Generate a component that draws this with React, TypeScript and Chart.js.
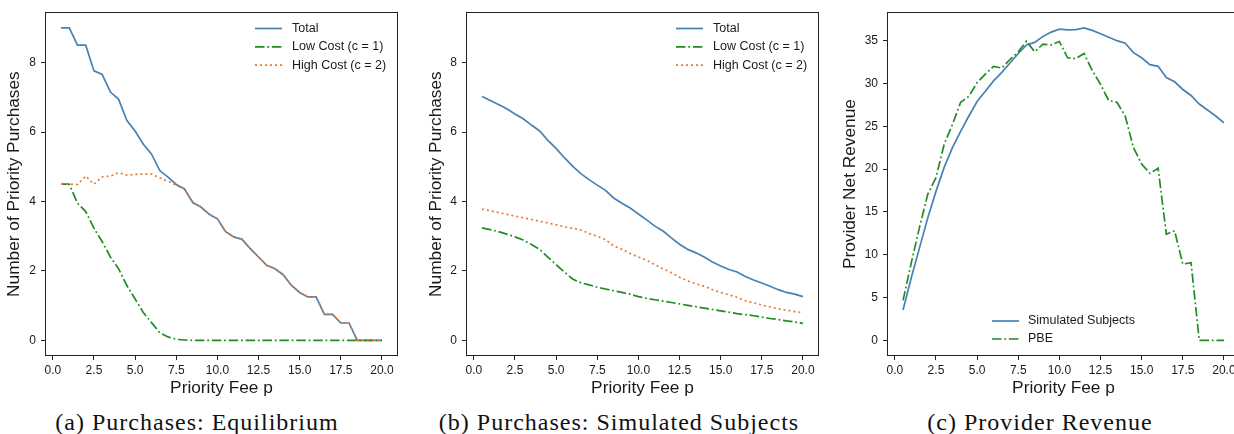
import React, { useEffect, useRef } from "react";
import { Chart, registerables } from "chart.js";

Chart.register(...registerables);
Chart.defaults.font.family = "'Liberation Sans', Arial, Helvetica, sans-serif";

// ---------------- DATA ----------------
const feeP = [
  0.5, 1.0, 1.5, 2.0, 2.5, 3.0, 3.5, 4.0, 4.5, 5.0,
  5.5, 6.0, 6.5, 7.0, 7.5, 8.0, 8.5, 9.0, 9.5, 10.0,
  10.5, 11.0, 11.5, 12.0, 12.5, 13.0, 13.5, 14.0, 14.5, 15.0,
  15.5, 16.0, 16.5, 17.0, 17.5, 18.0, 18.5, 19.0, 19.5, 20.0,
];

// (a) Purchases: Equilibrium
const totalEq = [
  9.0, 9.0, 8.5, 8.5, 7.76, 7.66, 7.15, 6.94, 6.33, 6.03,
  5.65, 5.36, 4.89, 4.70, 4.49, 4.36, 3.97, 3.84, 3.63, 3.50,
  3.13, 2.98, 2.91, 2.64, 2.40, 2.16, 2.06, 1.89, 1.58, 1.38,
  1.25, 1.25, 0.75, 0.75, 0.5, 0.5, 0, 0, 0, 0,
];
const lowEq = [
  4.5, 4.5, 3.95, 3.71, 3.23, 2.84, 2.40, 2.06, 1.58, 1.19,
  0.80, 0.51, 0.22, 0.10, 0.03, 0.01, 0, 0, 0, 0,
  0, 0, 0, 0, 0, 0, 0, 0, 0, 0,
  0, 0, 0, 0, 0, 0, 0, 0, 0, 0,
];
const highEq = [
  4.5, 4.5, 4.49, 4.73, 4.5, 4.71, 4.73, 4.83, 4.76, 4.78,
  4.79, 4.79, 4.68, 4.58, 4.47, 4.36, 3.97, 3.84, 3.63, 3.50,
  3.13, 2.98, 2.91, 2.64, 2.40, 2.16, 2.06, 1.89, 1.58, 1.38,
  1.25, 1.25, 0.75, 0.75, 0.5, 0.5, 0, 0, 0, 0,
];

// (b) Purchases: Simulated Subjects
const totalSim = [
  7.02, 6.91, 6.79, 6.67, 6.52, 6.38, 6.20, 6.03, 5.76, 5.53,
  5.26, 5.02, 4.80, 4.63, 4.47, 4.32, 4.10, 3.95, 3.81, 3.64,
  3.47, 3.29, 3.15, 2.95, 2.77, 2.62, 2.52, 2.40, 2.26, 2.14,
  2.04, 1.97, 1.84, 1.74, 1.65, 1.56, 1.46, 1.38, 1.33, 1.26,
];
const lowSim = [
  3.24, 3.19, 3.13, 3.06, 2.98, 2.89, 2.76, 2.62, 2.40, 2.18,
  1.97, 1.77, 1.66, 1.60, 1.53, 1.48, 1.43, 1.38, 1.33, 1.26,
  1.21, 1.17, 1.13, 1.09, 1.05, 1.01, 0.97, 0.93, 0.89, 0.85,
  0.81, 0.77, 0.74, 0.71, 0.67, 0.63, 0.60, 0.56, 0.53, 0.49,
];
const highSim = [
  3.78, 3.73, 3.68, 3.63, 3.58, 3.53, 3.48, 3.43, 3.38, 3.33,
  3.27, 3.23, 3.18, 3.08, 3.00, 2.90, 2.72, 2.62, 2.50, 2.40,
  2.31, 2.18, 2.06, 1.95, 1.82, 1.71, 1.63, 1.56, 1.46, 1.38,
  1.31, 1.24, 1.14, 1.08, 1.02, 0.96, 0.91, 0.87, 0.83, 0.80,
];

// (c) Provider Revenue
const revenueSim = [
  3.54, 7.32, 10.8, 14.3, 17.4, 20.2, 22.5, 24.4, 26.2, 27.9,
  29.1, 30.3, 31.3, 32.4, 33.5, 34.5, 34.8, 35.5, 36.0, 36.35,
  36.25, 36.3, 36.5, 36.2, 35.8, 35.4, 35.0, 34.7, 33.6, 33.0,
  32.2, 32.0, 30.7, 30.2, 29.3, 28.6, 27.6, 26.9, 26.2, 25.4,
];
const revenuePBE = [
  4.67, 9.07, 13.2, 17.05, 19.0, 22.9, 25.2, 27.8, 28.5, 30.1,
  31.1, 32.0, 31.8, 32.8, 33.7, 34.95, 33.7, 34.6, 34.5, 34.9,
  33.0, 32.9, 33.5, 31.5, 29.9, 28.0, 27.8, 26.2, 22.5, 20.6,
  19.5, 20.1, 12.4, 12.8, 8.9, 9.07, 0, 0, 0, 0,
];

const xTicks = [0, 2.5, 5, 7.5, 10, 12.5, 15, 17.5, 20];
const purchaseTicks = [0, 2, 4, 6, 8];
const revenueTicks = [0, 5, 10, 15, 20, 25, 30, 35];

const captions = [
  "(a) Purchases: Equilibrium",
  "(b) Purchases: Simulated Subjects",
  "(c) Provider Revenue",
];

// ---------------- STYLE ----------------
const BLUE = "#4682b4";
const GREEN = "#228b22";
const ORANGE = "#ec762c";
const TEXT = "#1a1a1a";
const LW = 1.7;
const DASHDOT = [9.5, 2.8, 1.8, 2.8];
const DOTTED = [2, 3];

type Series = { label: string; values: number[]; color: string; dash: number[] };
type Spec = {
  left: number;
  width: number;
  yAxisWidth: number;
  yTitlePad: number;
  yMin: number;
  yMax: number;
  yTicks: number[];
  yTitle: string;
  series: Series[];
  legend: { sampleX: number; textX: number; y0: number; dy: number };
};

const H = 400;
const CHART_BOTTOM = 356;

function makeChart(canvas: HTMLCanvasElement, s: Spec) {
  const legendPlugin = {
    id: "insideLegend",
    afterDatasetsDraw(chart: any) {
      const ctx = chart.ctx as CanvasRenderingContext2D;
      const a = chart.chartArea;
      ctx.save();
      // frame
      ctx.strokeStyle = "#222";
      ctx.lineWidth = 1;
      ctx.setLineDash([]);
      ctx.strokeRect(
        Math.round(a.left) + 0.5,
        Math.round(a.top) + 0.5,
        Math.round(a.right) - Math.round(a.left) - 1,
        Math.round(a.bottom) - Math.round(a.top) - 1
      );
      // legend
      s.series.forEach((ser, i) => {
        const y = s.legend.y0 + i * s.legend.dy;
        ctx.strokeStyle = ser.color;
        ctx.lineWidth = LW;
        ctx.lineCap = "butt";
        ctx.setLineDash(ser.dash);
        ctx.beginPath();
        ctx.moveTo(s.legend.sampleX, y);
        ctx.lineTo(s.legend.sampleX + 27, y);
        ctx.stroke();
        ctx.setLineDash([]);
        ctx.fillStyle = TEXT;
        ctx.font = "12.5px 'Liberation Sans', Arial, sans-serif";
        ctx.textBaseline = "middle";
        ctx.textAlign = "left";
        ctx.fillText(ser.label, s.legend.textX, y);
      });
      ctx.restore();
    },
  };

  const n = s.series.length;
  return new Chart(canvas, {
    type: "line",
    data: {
      datasets: s.series.map((ser, i) => ({
        label: ser.label,
        data: feeP.map((x, k) => ({ x, y: ser.values[k] })),
        borderColor: ser.color,
        backgroundColor: ser.color,
        borderWidth: LW,
        borderDash: ser.dash,
        pointRadius: 0,
        tension: 0,
        fill: false,
        order: n - i,
      })),
    },
    options: {
      animation: false,
      responsive: false,
      maintainAspectRatio: false,
      layout: { padding: { top: 12, left: 0, right: 0, bottom: 0 } },
      plugins: { legend: { display: false }, tooltip: { enabled: false } },
      scales: {
        x: {
          type: "linear",
          min: -0.475,
          max: 20.975,
          afterBuildTicks: (sc: any) => {
            sc.ticks = xTicks.map((v) => ({ value: v }));
          },
          afterFit: (sc: any) => {
            sc.height = H - CHART_BOTTOM;
          },
          ticks: {
            callback: (v: any) => Number(v).toFixed(1),
            font: { size: 12 },
            color: TEXT,
            padding: 3,
            maxRotation: 0,
            autoSkip: false,
          },
          grid: { drawOnChartArea: false, drawTicks: true, tickLength: 4, color: "#222", lineWidth: 1 },
          border: { display: false },
          title: {
            display: true,
            text: "Priority Fee p",
            font: { size: 17.3 },
            color: TEXT,
            padding: { top: 0, bottom: 1.6 },
          },
        },
        y: {
          type: "linear",
          min: s.yMin,
          max: s.yMax,
          afterBuildTicks: (sc: any) => {
            sc.ticks = s.yTicks.map((v) => ({ value: v }));
          },
          afterFit: (sc: any) => {
            sc.width = s.yAxisWidth;
          },
          ticks: {
            callback: (v: any) => String(v),
            font: { size: 12 },
            color: TEXT,
            padding: 5,
          },
          grid: { drawOnChartArea: false, drawTicks: true, tickLength: 4, color: "#222", lineWidth: 1 },
          border: { display: false },
          title: {
            display: true,
            text: s.yTitle,
            font: { size: 17.3 },
            color: TEXT,
            padding: { top: s.yTitlePad, bottom: 0 },
          },
        },
      },
    },
    plugins: [legendPlugin],
  } as any);
}

const purchaseSeries = (total: number[], low: number[], high: number[]): Series[] => [
  { label: "Total", values: total, color: BLUE, dash: [] },
  { label: "Low Cost (c = 1)", values: low, color: GREEN, dash: DASHDOT },
  { label: "High Cost (c = 2)", values: high, color: ORANGE, dash: DOTTED },
];

const specs: Spec[] = [
  {
    left: 0,
    width: 398,
    yAxisWidth: 45,
    yTitlePad: 4.3,
    yMin: -0.45,
    yMax: 9.45,
    yTicks: purchaseTicks,
    yTitle: "Number of Priority Purchases",
    series: purchaseSeries(totalEq, lowEq, highEq),
    legend: { sampleX: 255, textX: 292, y0: 28.5, dy: 18.3 },
  },
  {
    left: 421,
    width: 398,
    yAxisWidth: 45,
    yTitlePad: 5.3,
    yMin: -0.45,
    yMax: 9.45,
    yTicks: purchaseTicks,
    yTitle: "Number of Priority Purchases",
    series: purchaseSeries(totalSim, lowSim, highSim),
    legend: { sampleX: 676 - 421, textX: 713 - 421, y0: 28.5, dy: 18.3 },
  },
  {
    left: 837,
    width: 403,
    yAxisWidth: 50,
    yTitlePad: 3.3,
    yMin: -1.825,
    yMax: 38.325,
    yTicks: revenueTicks,
    yTitle: "Provider Net Revenue",
    series: [
      { label: "Simulated Subjects", values: revenueSim, color: BLUE, dash: [] },
      { label: "PBE", values: revenuePBE, color: GREEN, dash: DASHDOT },
    ],
    legend: { sampleX: 992 - 837, textX: 1028 - 837, y0: 321, dy: 18 },
  },
];

const captionCenters = [197, 619, 1040];

function Panel({ spec }: { spec: Spec }) {
  const ref = useRef<HTMLCanvasElement>(null);
  useEffect(() => {
    const chart = makeChart(ref.current!, spec);
    return () => chart.destroy();
  }, []);
  return (
    <canvas
      ref={ref}
      width={spec.width}
      height={H}
      style={{ position: "absolute", left: spec.left, top: 0, width: spec.width, height: H }}
    />
  );
}

export default function App() {
  return (
    <div
      style={{
        position: "fixed",
        left: 0,
        top: 0,
        width: 1234,
        height: 434,
        overflow: "hidden",
        background: "#fff",
      }}
    >
      {specs.map((s, i) => (
        <Panel key={i} spec={s} />
      ))}
      {captions.map((c, i) => (
        <div
          key={c}
          style={{
            position: "absolute",
            top: 410,
            left: captionCenters[i] - 250,
            width: 500,
            textAlign: "center",
            fontFamily: "'Liberation Serif', 'Times New Roman', serif",
            fontSize: 24,
            letterSpacing: "1px",
            lineHeight: "24px",
            color: "#111",
            whiteSpace: "nowrap",
          }}
        >
          {c}
        </div>
      ))}
    </div>
  );
}
